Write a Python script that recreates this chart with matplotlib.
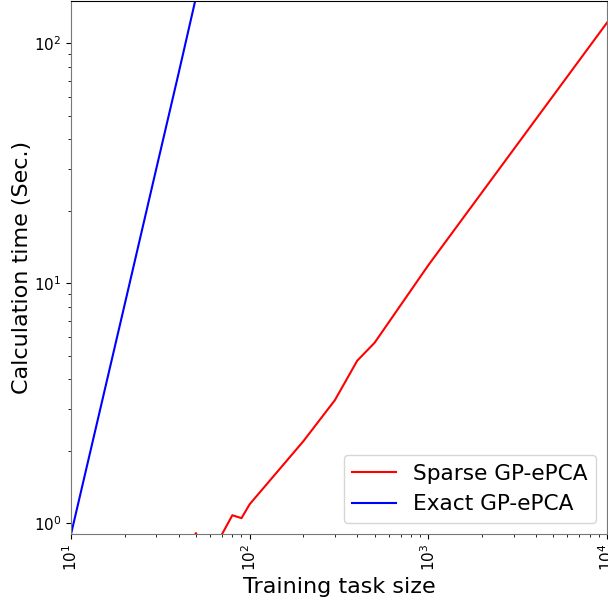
import numpy as np
import matplotlib
matplotlib.use('Agg')
import matplotlib.pyplot as plt

# training task size vs calculation time
sparse_n = [10, 20, 30, 40, 50, 60, 70, 80, 90, 100, 200, 300, 400, 500, 1000, 10000]
sparse_t = [0.1, 0.2, 0.4, 0.6, 0.91, 0.7, 0.9, 1.08, 1.05, 1.2, 2.2, 3.26, 4.76, 5.65, 11.9, 122]
exact_n = [10, 20, 30, 40, 50, 60]
exact_t = [0.9, 8.2, 30, 75, 155, 275]

fig = plt.figure(figsize=(6.08, 6.01), dpi=100)
ax = fig.add_axes([0.1168, 0.1115, 0.8815, 0.8865])
ax.plot(sparse_n, sparse_t, color='red', lw=1.5, label='Sparse GP-ePCA')
ax.plot(exact_n, exact_t, color='blue', lw=1.5, label='Exact GP-ePCA')
ax.set_xscale('log')
ax.set_yscale('log')
ax.set_xlim(10, 10000)
ax.set_ylim(0.902, 150)
ax.set_xlabel('Training task size', fontsize=16)
ax.set_ylabel('Calculation time (Sec.)', fontsize=16, labelpad=1.5)
ax.tick_params(labelsize=11)
plt.setp(ax.get_xticklabels(), rotation=90)
for s in ['left', 'bottom', 'right']:
    ax.spines[s].set_color('#777777')
ax.legend(loc='lower right', fontsize=15.6)
fig.savefig('out.png')
